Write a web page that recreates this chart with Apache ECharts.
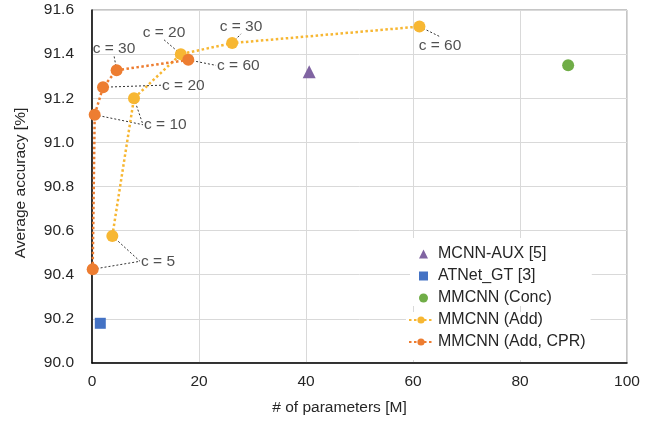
<!DOCTYPE html>
<html><head><meta charset="utf-8">
<script src="https://cdn.jsdelivr.net/npm/echarts@6/dist/echarts.min.js"></script>
<style>html,body{margin:0;padding:0;background:#fff}#c{width:652px;height:421px}</style>
</head><body><div id="c"></div>
<script>
// ---- data ----
const mcnnAux = [[40.6, 91.32]];
const atnetGT = [[1.55, 90.18]];
const mmcnnConc = [[89.0, 91.35]];
const mmcnnAdd = [[3.8, 90.576], [7.85, 91.20], [16.6, 91.40], [26.2, 91.45], [61.2, 91.525]];
const mmcnnAddCPR = [[0.13, 90.425], [0.5, 91.125], [2.06, 91.25], [4.6, 91.327], [18.0, 91.374]];
const seriesNames = ['MCNN-AUX [5]', 'ATNet_GT [3]', 'MMCNN (Conc)', 'MMCNN (Add)', 'MMCNN (Add, CPR)'];
const xTicks = [0, 20, 40, 60, 80, 100];
const yTicks = [90.0, 90.2, 90.4, 90.6, 90.8, 91.0, 91.2, 91.4, 91.6];
// annotations: text, anchor [x,y] in data units, connected points
const annotations = [
  {text: 'c = 20', at: [13.46, 91.465], pts: [mmcnnAdd[2]], align: 'center', va: 'bottom'},
  {text: 'c = 30', at: [27.85, 91.492], pts: [mmcnnAdd[3]], align: 'center', va: 'bottom'},
  {text: 'c = 60', at: [65.05, 91.479], pts: [mmcnnAdd[4]], align: 'center', va: 'top'},
  {text: 'c = 30', at: [4.11, 91.394], pts: [mmcnnAddCPR[3]], align: 'center', va: 'bottom'},
  {text: 'c = 60', at: [23.18, 91.349], pts: [mmcnnAddCPR[4]], align: 'left', va: 'middle'},
  {text: 'c = 20', at: [12.9, 91.259], pts: [mmcnnAddCPR[2]], align: 'left', va: 'middle'},
  {text: 'c = 10', at: [9.53, 91.08], pts: [mmcnnAddCPR[1], mmcnnAdd[1]], align: 'left', va: 'middle'},
  {text: 'c = 5', at: [8.97, 90.461], pts: [mmcnnAddCPR[0], mmcnnAdd[0]], align: 'left', va: 'middle'}
];

const colors = {aux: '#8064A2', gt: '#4472C4', conc: '#70AD47', add: '#F7B733', cpr: '#ED7D31'};
const font = 'Liberation Sans, Arial, sans-serif';
const txt = '#262626';

const leaderData = [];
annotations.forEach(a => a.pts.forEach(p => leaderData.push({coords: [p, a.at]})));
const labelData = annotations.map(a => ({
  value: a.at, name: a.text,
  label: {align: a.align, verticalAlign: a.va, position: 'inside', offset: [a.align === 'left' ? 1 : 0, a.va === 'bottom' ? 1 : (a.va === 'top' ? 1 : 0)]}
}));

const chart = echarts.init(document.getElementById('c'), null, {renderer: 'canvas'});
chart.setOption({
  animation: false,
  textStyle: {fontFamily: font},
  grid: {left: 92, right: 25, top: 10, bottom: 54, show: true, borderColor: '#8c8c8c', borderWidth: 1},
  xAxis: {
    type: 'value', min: xTicks[0], max: xTicks[xTicks.length - 1], interval: 20,
    name: '# of parameters [M]', nameLocation: 'middle', nameGap: 37,
    nameTextStyle: {fontSize: 15.5, color: txt, fontFamily: font, padding: [0, 40, 0, 0]},
    axisLine: {show: true, onZero: false, lineStyle: {color: '#000', width: 1.5}},
    axisTick: {show: false},
    axisLabel: {fontSize: 15.5, color: txt, margin: 11, fontFamily: font},
    splitLine: {show: true, lineStyle: {color: '#d9d9d9', width: 1}}
  },
  yAxis: {
    type: 'value', min: yTicks[0], max: yTicks[yTicks.length - 1], interval: 0.2,
    name: 'Average accuracy [%]', nameLocation: 'middle', nameGap: 63,
    nameTextStyle: {fontSize: 15.5, color: txt, fontFamily: font, padding: [0, 0, 0, 7]},
    axisLine: {show: true, onZero: false, lineStyle: {color: '#000', width: 1.5}},
    axisTick: {show: false},
    axisLabel: {fontSize: 15.5, color: txt, margin: 18, fontFamily: font, formatter: v => v.toFixed(1)},
    splitLine: {show: true, lineStyle: {color: '#d9d9d9', width: 1}}
  },
  legend: [
    {
      data: seriesNames.slice(0, 3), orient: 'vertical', left: 410, top: 238,
      itemWidth: 9, itemHeight: 9, itemGap: 6,
      backgroundColor: '#fff', padding: [8, 40, 0, 9],
      textStyle: {fontSize: 16, color: txt, fontFamily: font, padding: [0, 0, 0, 5]}
    },
    {
      data: seriesNames.slice(3), orient: 'vertical', left: 406, top: 312,
      itemWidth: 24, itemHeight: 9, itemGap: 6,
      backgroundColor: '#fff', padding: [0, 5, 10, 2],
      textStyle: {fontSize: 16, color: txt, fontFamily: font}
    }
  ],
  series: [
    {type: 'lines', coordinateSystem: 'cartesian2d', silent: true, z: 1,
     lineStyle: {color: '#333', width: 1, type: [2, 2], opacity: 1}, data: leaderData},
    {name: seriesNames[0], type: 'scatter', data: mcnnAux, symbol: 'triangle', symbolSize: 13, itemStyle: {color: colors.aux, opacity: 1}, z: 3},
    {name: seriesNames[1], type: 'scatter', data: atnetGT, symbol: 'rect', symbolSize: 11, itemStyle: {color: colors.gt, opacity: 1}, z: 3},
    {name: seriesNames[2], type: 'scatter', data: mmcnnConc, symbol: 'circle', symbolSize: 12, itemStyle: {color: colors.conc, opacity: 1}, z: 3},
    {name: seriesNames[3], type: 'line', data: mmcnnAdd, symbol: 'circle', symbolSize: 12, showSymbol: true,
     itemStyle: {color: colors.add}, lineStyle: {color: colors.add, width: 2.5, type: [2.5, 2.5]}, z: 3},
    {name: seriesNames[4], type: 'line', data: mmcnnAddCPR, symbol: 'circle', symbolSize: 12, showSymbol: true,
     itemStyle: {color: colors.cpr}, lineStyle: {color: colors.cpr, width: 2.5, type: [2.5, 2.5]}, z: 3},
    {type: 'scatter', silent: true, symbolSize: 0, data: labelData, z: 4,
     label: {show: true, formatter: p => p.name, fontSize: 15.5, color: txt, fontFamily: font}}
  ]
});
</script></body></html>
